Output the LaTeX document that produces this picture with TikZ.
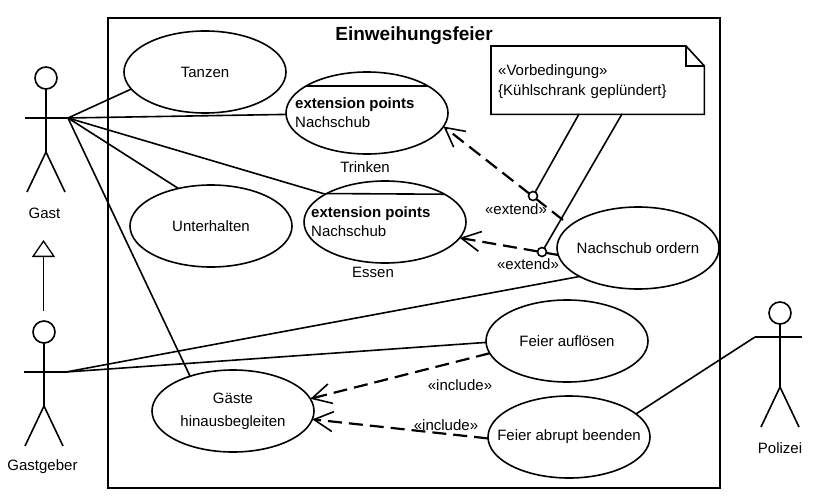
\documentclass[tikz,border=0pt]{standalone}
\usepackage{fontspec}
\setmainfont{Liberation Sans}
\usetikzlibrary{arrows.meta,shapes.geometric,calc}

\begin{document}
\begin{tikzpicture}[
  x=1pt,y=-1pt,
  font=\fontsize{15}{19.5}\selectfont,
  lbl/.style    = {inner sep=0pt,align=center},
  usecase/.style= {draw,ellipse,line width=1.6pt,minimum width=162pt,minimum height=82pt,inner sep=0pt,outer sep=0pt},
  part/.style   = {inner sep=0pt,align=left,anchor=north west},
  assoc/.style  = {line width=1.6pt},
  thk/.style    = {line width=1.6pt},
  dep/.style    = {line width=2.2pt,dash pattern=on 14pt off 7pt,-{Straight Barb[length=19pt,width=20pt,line width=1.6pt]}},
  gen/.style    = {line width=1.6pt,-{Triangle[open,length=17pt,width=23pt,line width=1.3pt]}},
  lollipop/.style={draw,circle,line width=1.6pt,fill=white,minimum size=9pt,inner sep=0pt,outer sep=0pt},
]
\useasboundingbox (0,0) rectangle (821,500);

% system frame
\draw[line width=2pt] (108,18) rectangle (720,488);
\node[lbl,font=\fontsize{19}{22}\selectfont\bfseries] (title) at (414,36) {Einweihungsfeier};

% actors
\foreach \nm/\ax/\ay/\arm/\lft/\lx/\txt in {gast/46/78/40/21/44.5/Gast,geber/44/332/40/20/42.5/Gastgeber,polizei/780/313/24/25/780/Polizei}{
  \node[draw,circle,thk,minimum size=22pt,inner sep=0pt,outer sep=0pt] (\nm-head) at (\ax,\ay) {};
  \coordinate (\nm-hip)   at (\ax,\ay+74);
  \coordinate (\nm-lh)    at (\ax-\lft,\ay+\arm);
  \coordinate (\nm-rh)    at (\ax+22,\ay+\arm);
  \coordinate (\nm-lf)    at (\ax-19,\ay+114);
  \coordinate (\nm-rf)    at (\ax+19,\ay+114);
  \draw[thk] (\nm-head.south) -- (\nm-hip);
  \draw[thk] (\nm-lh) -- (\nm-rh);
  \draw[thk] (\nm-lf) -- (\nm-hip) -- (\nm-rf);
  \node[lbl] (\nm-lbl) at (\lx,\ay+135) {\txt};
}

% use cases
\foreach \nm/\cx/\cy/\txt in {tanzen/205/72/Tanzen,trinken/367/113/,essen/385/222/,
    unter/211/226/Unterhalten,ordern/638/248/Nachschub ordern,aufl/567/341/Feier auflösen,
    abrupt/569/437/Feier abrupt beenden,gaeste/233/411/Gäste\\[3.5pt]hinausbegleiten}{
  \node[usecase] (\nm) at (\cx,\cy) {};
  \node[lbl] (\nm-txt) at (\nm) {\txt};
}

% extension compartments
\draw[thk] (trinken.156) -- (trinken.24);
\draw[thk] (essen.154.6) -- (essen.25.4);
\node[part] (trinkenext) at (295,97)  {\textbf{extension points}\\Nachschub};
\node[part] (essenext)   at (311,206) {\textbf{extension points}\\Nachschub};
\node[lbl] (trinkenlbl) at (365,167) {Trinken};
\node[lbl] (essenlbl)   at (373,272) {Essen};

% note
\node[part,text width=199pt,minimum height=68pt,inner xsep=7pt,inner ysep=0pt] (note) at (491,46)
  {\rule{0pt}{14pt}«Vorbedingung»\\{\{}Kühlschrank geplündert\}};
\draw[thk] (note.south west) -- (note.north west) -- ++(195,0) coordinate (foldA)
  -- ($(note.north east)+(0,20)$) coordinate (foldB) -- (note.south east) -- cycle;
\draw[thk] (foldA) |- (foldB);

% associations
\draw[assoc] (gast-rh) -- (tanzen.193);
\draw[assoc] (gast-rh) -- (trinken.181);
\draw[assoc] (gast-rh) -- (essen.155);
\draw[assoc] (gast-rh) -- (unter.131);
\draw[assoc] (gast-rh) -- (gaeste.141);
\draw[assoc] (geber-rh) -- (ordern.206.6);
\draw[assoc] (geber-rh) -- (aufl.181.4);
\draw[assoc] (abrupt.19.2) -- (polizei-lh);

% generalisation
\coordinate (genfoot) at (43.5,311);
\coordinate (gentop) at (43.5,240);
\draw[gen] (genfoot) -- (gentop);

% extend and include
\coordinate (extendend) at (563,220);
\draw[dep] (extendend) -- (trinken.-10.3);
\draw[dep] (ordern.185.6) -- (essen.-12.4);
\node[lollipop] (ptA) at (533,196) {};
\node[lollipop] (ptB) at (542,252) {};
\coordinate (noteA) at (579,114);
\coordinate (noteB) at (622,114);
\draw[thk] (noteA) -- (ptA);
\draw[thk] (noteB) -- (ptB);
\draw[dep] (aufl.189.3) -- (gaeste.9.5);
\draw[dep] (abrupt.181.4) -- (gaeste.-6.3);

\node[lbl] (ext1) at (516,209) {«extend»};
\node[lbl] (ext2) at (528,264) {«extend»};
\node[lbl] (inc1) at (460,385) {«include»};
\node[lbl] (inc2) at (446,425) {«include»};

\end{tikzpicture}
\end{document}
